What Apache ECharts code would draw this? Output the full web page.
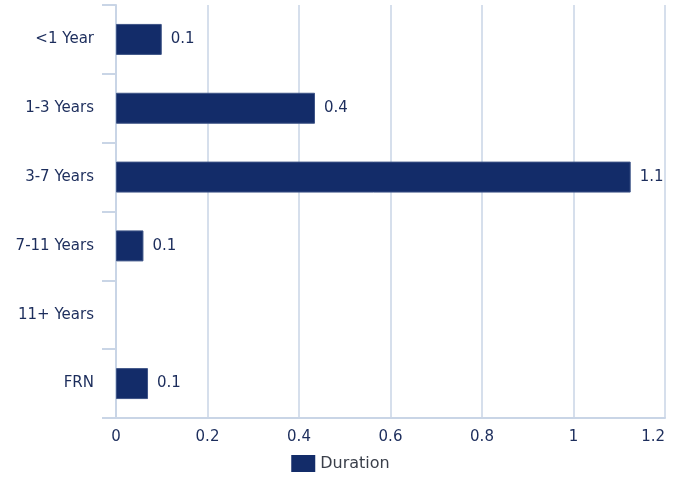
<!DOCTYPE html>
<html>
<head>
<meta charset="utf-8">
<script src="https://cdn.jsdelivr.net/npm/echarts@6/dist/echarts.min.js"></script>
<style>html,body{margin:0;padding:0;background:#fff}#c{width:681px;height:477px}</style>
</head>
<body>
<div id="c"></div>
<script>
const categories = ['<1 Year', '1-3 Years', '3-7 Years', '7-11 Years', '11+ Years', 'FRN'];
const durationValues = [0.1, 0.435, 1.125, 0.06, null, 0.07];
const seriesName = 'Duration';

const textColor = '#1c2d5c';
const chart = echarts.init(document.getElementById('c'));
chart.setOption({
  animation: false,
  textStyle: { fontFamily: 'DejaVu Sans, Verdana, sans-serif' },
  grid: { left: 116, right: 16, top: 5, bottom: 59 },
  legend: {
    bottom: 0, left: 'center',
    itemWidth: 24, itemHeight: 17, itemGap: 10,
    icon: 'rect',
    itemStyle: { borderWidth: 0 },
    textStyle: { color: '#3a3f4a', fontSize: 16, fontFamily: 'DejaVu Sans, Verdana, sans-serif' },
    data: [seriesName]
  },
  xAxis: {
    type: 'value', min: 0, max: 1.2, interval: 0.2,
    axisLine: { show: true, lineStyle: { color: '#c9d5e6', width: 2 } },
    axisTick: { show: false },
    splitLine: { show: true, lineStyle: { color: '#c9d5e6', width: 1.5 } },
    axisLabel: { color: textColor, fontSize: 15, margin: 12, alignMaxLabel: 'right', formatter: v => String(+v.toFixed(1)) }
  },
  yAxis: {
    type: 'category', data: categories, inverse: true,
    axisLine: { show: true, lineStyle: { color: '#c9d5e6', width: 2 } },
    axisTick: { show: true, length: 14, lineStyle: { color: '#c9d5e6', width: 2 } },
    axisLabel: { color: textColor, fontSize: 15, margin: 22 }
  },
  series: [{
    name: seriesName, type: 'bar', data: durationValues,
    barWidth: '45%',
    itemStyle: { color: '#132c69', borderColor: '#3e5487', borderWidth: 1 },
    label: {
      show: true, position: 'right', distance: 9, color: textColor, fontSize: 15,
      formatter: p => p.value == null ? '' : p.value.toFixed(1)
    }
  }]
});
</script>
</body>
</html>
